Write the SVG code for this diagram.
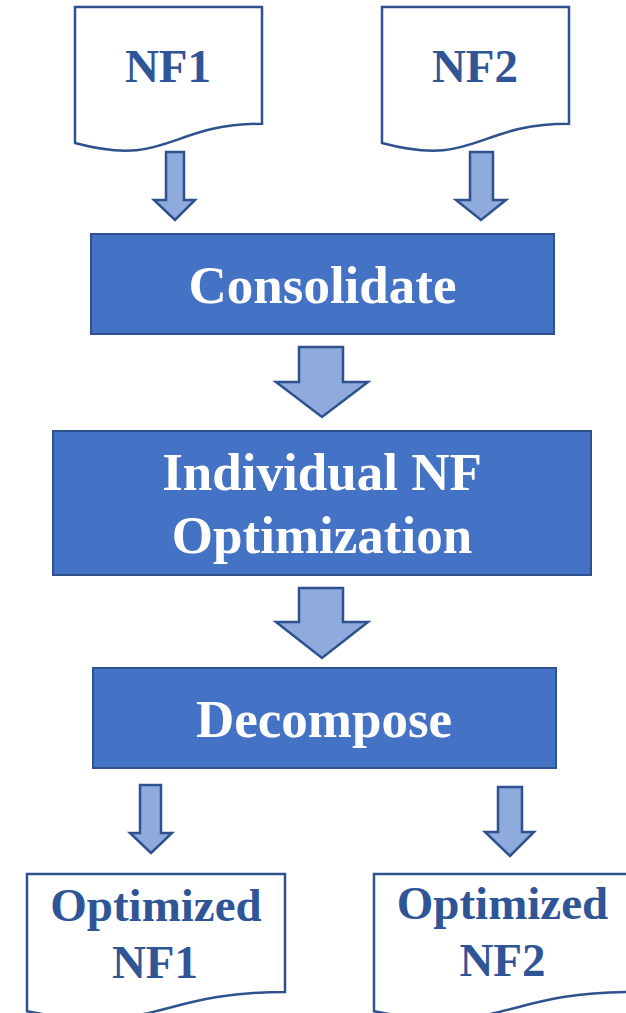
<svg xmlns="http://www.w3.org/2000/svg" width="626" height="1013" viewBox="0 0 626 1013">
<style>
.doc{fill:#fff;stroke:#2F528F;stroke-width:2.5}
.box{fill:#4472C4;stroke:#2F528F;stroke-width:2}
.arr{fill:#8FAADC;stroke:#2F528F;stroke-width:2.5;stroke-linejoin:miter}
.dt{font-family:"Liberation Serif","Times New Roman",serif;font-weight:bold;font-size:47px;fill:#2F5597;text-anchor:middle}
.bt{font-family:"Liberation Serif","Times New Roman",serif;font-weight:bold;font-size:53px;fill:#fff;text-anchor:middle}
</style>
<rect width="626" height="1013" fill="#fff"/>
<g id="nf1">
<path class="doc" d="M75,7 H262 V123.8 C168.5,123.8 168.5,168.2 75,143 Z"/>
<text class="dt" x="168" y="82">NF1</text>
</g>
<g id="nf2">
<path class="doc" d="M382,7 H569 V123.8 C475.5,123.8 475.5,168.2 382,143 Z"/>
<text class="dt" x="475" y="82">NF2</text>
</g>
<g id="consolidate">
<rect class="box" x="91" y="234" width="463" height="100"/>
<text class="bt" x="322.5" y="303">Consolidate</text>
</g>
<g id="individual">
<rect class="box" x="53" y="431" width="538" height="144"/>
<text class="bt" x="322" y="490">Individual NF</text>
<text class="bt" x="322" y="553">Optimization</text>
</g>
<g id="decompose">
<rect class="box" x="93" y="668" width="463" height="100"/>
<text class="bt" x="324" y="737">Decompose</text>
</g>
<g id="opt1">
<path class="doc" d="M27,874 H285 V992 C156,992 156,1036.7 27,1011.3 Z"/>
<text class="dt" x="156" y="921">Optimized</text>
<text class="dt" x="155" y="978">NF1</text>
</g>
<g id="opt2">
<path class="doc" d="M374,874 H631 V992 C502.5,992 502.5,1036.7 374,1011.3 Z"/>
<text class="dt" x="502.5" y="919">Optimized</text>
<text class="dt" x="502.5" y="976">NF2</text>
</g>
<g id="connectors">
<path class="arr" d="M166,152 H184 V200 H195 L175,220 L154,200 H166 Z"/>
<path class="arr" d="M470,152 H493 V200 H506 L481,220 L456,200 H470 Z"/>
<path class="arr" d="M299,347 H343 V382 H368 L322,417 L276,382 H299 Z"/>
<path class="arr" d="M299,588 H343 V622 H368 L322,658 L276,622 H299 Z"/>
<path class="arr" d="M140,785 H161 V833 H172 L151,853 L130,833 H140 Z"/>
<path class="arr" d="M498,787 H522 V832 H534 L510,856 L485,832 H498 Z"/>
</g>
</svg>
